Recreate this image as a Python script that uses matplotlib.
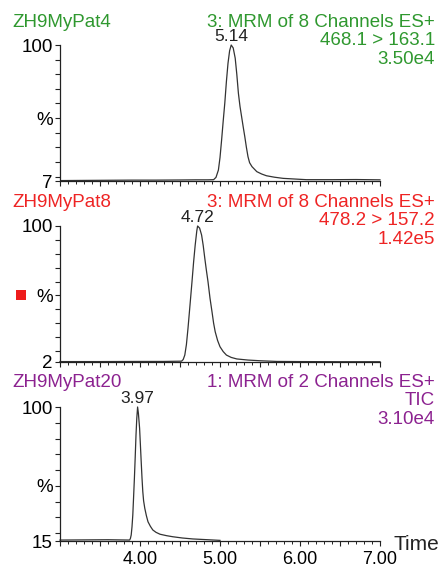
import numpy as np
import matplotlib
matplotlib.use("Agg")
import matplotlib.pyplot as plt
from matplotlib.patches import Rectangle

plt.rcParams['font.family'] = ['Liberation Sans', 'DejaVu Sans']

# Chromatogram traces (time in min, relative intensity in %)
t1 = [3.02, 3.30, 3.60, 3.90, 4.20, 4.50, 4.70, 4.85, 4.92, 4.95, 4.98, 5.00, 5.02, 5.04, 5.06,
      5.08, 5.10, 5.12, 5.14, 5.165, 5.19, 5.21, 5.23, 5.25, 5.27, 5.29, 5.31, 5.33, 5.35, 5.37,
      5.40, 5.46, 5.52, 5.58, 5.68, 5.79, 6.08, 6.40, 6.70, 7.00]
i1 = [7.3, 7.4, 7.5, 7.6, 7.6, 7.7, 7.8, 7.8, 7.9, 9.5, 14.5, 23.0, 35.0, 48.0, 60.3,
      75.0, 87.5, 96.0, 100, 98.0, 91.0, 80.0, 67.0, 58.0, 51.0, 44.0, 37.3, 30.0, 23.6, 19.5,
      16.8, 13.4, 11.8, 10.6, 9.6, 8.8, 7.9, 7.9, 8.0, 7.8]

t2 = [3.00, 3.50, 4.00, 4.30, 4.52, 4.54, 4.56, 4.58, 4.60, 4.625, 4.65, 4.67, 4.69, 4.71, 4.72,
      4.745, 4.77, 4.79, 4.81, 4.83, 4.85, 4.875, 4.90, 4.92, 4.94, 4.97, 5.00, 5.04, 5.08, 5.14,
      5.21, 5.35, 5.50, 5.71, 6.00, 6.50, 7.00]
i2 = [2.3, 2.3, 2.4, 2.4, 2.6, 3.8, 7.0, 14.5, 26.3, 43.0, 59.9, 74.0, 86.3, 96.5, 100,
      98.5, 93.5, 86.0, 76.7, 68.0, 59.9, 48.0, 38.2, 30.0, 23.8, 17.5, 13.0, 9.5, 7.0, 5.3,
      4.2, 3.4, 2.9, 2.4, 2.3, 2.2, 2.2]

t3 = [3.00, 3.30, 3.60, 3.87, 3.88, 3.89, 3.90, 3.91, 3.92, 3.93, 3.94, 3.95, 3.96, 3.97,
      3.98, 3.995, 4.005, 4.015, 4.025, 4.035, 4.045, 4.06, 4.08, 4.10, 4.13, 4.16, 4.20, 4.25,
      4.33, 4.41, 4.53, 4.66, 4.85, 5.00]
i3 = [15.6, 15.7, 15.8, 15.6, 16.6, 18.8, 24.0, 31.5, 43.0, 54.8, 68.0, 82.2, 93.0, 100,
      96.0, 86.5, 76.0, 65.3, 55.0, 46.3, 40.5, 35.7, 31.0, 27.2, 24.3, 22.0, 20.5, 19.3,
      18.4, 17.7, 16.9, 16.3, 15.8, 15.4]

samples = ['ZH9MyPat4', 'ZH9MyPat8', 'ZH9MyPat20']
functions = ['3: MRM of 8 Channels ES+', '3: MRM of 8 Channels ES+', '1: MRM of 2 Channels ES+']
transitions = ['468.1 > 163.1', '478.2 > 157.2', 'TIC']
max_counts = ['3.50e4', '1.42e5', '3.10e4']
peak_times = [5.14, 4.72, 3.97]
y_bottoms = [7, 2, 15]
colors = ['#2f982f', '#ee2424', '#8c2290']

x_labels = ['4.00', '5.00', '6.00', '7.00']
x_label_pos = [4, 5, 6, 7]

W, H = 441, 569
fig = plt.figure(figsize=(W / 100, H / 100), dpi=100)


def fx(x):
    return x / W


def fy(y):
    return 1 - y / H


# axes boxes in pixels: top, bottom
boxes = [(45, 181), (226, 362), (407, 541)]
header_y = [(26.7, 45, 63.5, 43), (206.7, 225, 244, 223.5), (386.7, 405, 423.5, 403.5)]
traces = [(t1, i1), (t2, i2), (t3, i3)]

fs = 13.5
for k in range(3):
    top, bot = boxes[k]
    ax = fig.add_axes([fx(60), fy(bot), fx(380) - fx(60), (bot - top) / H])
    t, inten = traces[k]
    ax.plot(t, inten, color='#333333', lw=0.9, clip_on=False)
    ax.set_xlim(3.0, 7.0)
    ax.set_ylim(y_bottoms[k], 100)
    for s in ['top', 'right']:
        ax.spines[s].set_visible(False)
    for s in ['left', 'bottom']:
        ax.spines[s].set_linewidth(0.9)
        ax.spines[s].set_color('#222222')

    yt = [y_bottoms[k]] + list(range(10 * (y_bottoms[k] // 10 + 1), 100, 10)) + [100]
    ylabs = ['%' if v == 50 else '' for v in yt]
    ylabs[0] = str(y_bottoms[k])
    ylabs[-1] = '100'
    ax.set_yticks(yt)
    ax.set_yticklabels(ylabs, fontsize=fs)
    ax.tick_params(axis='y', direction='out', length=3.6, width=0.8, pad=1.5, color='#222222')

    majors = np.arange(3.0, 7.01, 0.5)
    ax.set_xticks(majors)
    ax.set_xticks(np.arange(3.0, 7.01, 0.1), minor=True)
    if k == 2:
        labs = [x_labels[x_label_pos.index(int(m))] if m in x_label_pos else '' for m in majors]
    else:
        labs = ['' for m in majors]
    ax.set_xticklabels(labs, fontsize=13)
    ax.tick_params(axis='x', which='major', direction='out', length=3.6, width=0.8, pad=3.5, color='#222222')
    ax.tick_params(axis='x', which='minor', direction='out', length=2.0, width=0.7, color='#222222')

    y0, y1, y2, yp = header_y[k]
    fig.text(fx(12.5), fy(y0), samples[k], color=colors[k], fontsize=fs, va='baseline', ha='left')
    fig.text(fx(435), fy(y0), functions[k], color=colors[k], fontsize=fs, va='baseline', ha='right')
    fig.text(fx(435), fy(y1), transitions[k], color=colors[k], fontsize=fs, va='baseline', ha='right')
    fig.text(fx(435), fy(y2), max_counts[k], color=colors[k], fontsize=fs, va='baseline', ha='right')
    ax.annotate(f'{peak_times[k]:.2f}', xy=(peak_times[k], 100), xytext=(0, 0.5),
                textcoords='offset points', ha='center', va='bottom', fontsize=12.5, color='#222222')

# red marker beside the middle trace
fig.add_artist(Rectangle((fx(15.5), fy(299.5)), fx(10), 10 / H, transform=fig.transFigure,
                         facecolor='#ee1c1c', edgecolor='none'))

fig.text(fx(393), fy(550), 'Time', fontsize=15, va='baseline', ha='left', color='#222222')

fig.savefig('out.png', dpi=100)
